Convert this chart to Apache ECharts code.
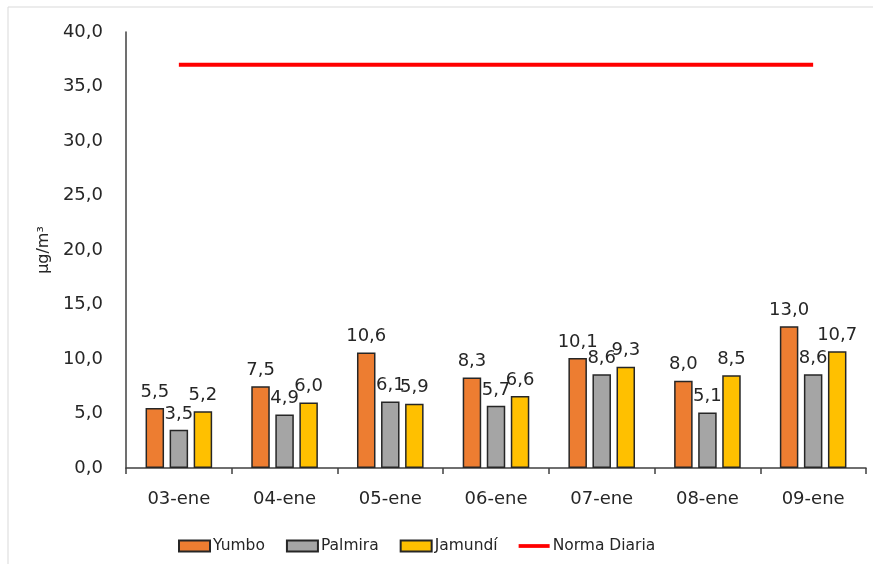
<!DOCTYPE html>
<html>
<head>
<meta charset="utf-8">
<script src="https://cdn.jsdelivr.net/npm/echarts@6/dist/echarts.min.js"></script>
<style>html,body{margin:0;padding:0;background:#fff;}#c{width:873px;height:564px;}</style>
</head>
<body>
<div id="c"></div>
<script>
var categories = ['03-ene','04-ene','05-ene','06-ene','07-ene','08-ene','09-ene'];
var yumbo = [5.5, 7.5, 10.6, 8.3, 10.1, 8.0, 13.0];
var palmira = [3.5, 4.9, 6.1, 5.7, 8.6, 5.1, 8.6];
var jamundi = [5.2, 6.0, 5.9, 6.6, 9.3, 8.5, 10.7];
var norma = [37, 37, 37, 37, 37, 37, 37];
var yTicks = {min: 0, max: 40, interval: 5};

var FONT = 'DejaVu Sans';
function fmt(v){ return Number(v).toFixed(1).replace('.', ','); }
function barSeries(name, data, color){
  return {
    name: name, type: 'bar', data: data,
    barGap: '30%', barCategoryGap: '37%',
    itemStyle: {color: color, borderColor: '#262626', borderWidth: 1.5},
    label: {show: true, position: 'top', distance: 7, color: '#262626',
      fontFamily: FONT, fontSize: 18, formatter: function(p){ return fmt(p.value); }}
  };
}
var chart = echarts.init(document.getElementById('c'), null, {renderer: 'canvas'});
chart.setOption({
  animation: false,
  backgroundColor: '#fff',
  graphic: [{type: 'rect', shape: {x: 8, y: 7, width: 900, height: 600},
    style: {fill: 'none', stroke: '#d9d9d9', lineWidth: 1}, silent: true}],
  grid: {left: 126, right: 7, top: 32, bottom: 96},
  legend: {
    top: 533, left: 173, itemGap: 21, itemWidth: 31, itemHeight: 11,
    textStyle: {fontFamily: FONT, fontSize: 15.5, color: '#262626', padding: [0, 0, 0, -2]},
    data: [
      {name: 'Yumbo', icon: 'rect'},
      {name: 'Palmira', icon: 'rect'},
      {name: 'Jamundí', icon: 'rect'},
      {name: 'Norma Diaria', icon: 'path://M0,0 H33 V4 H0 Z', itemStyle: {color: '#FF0000', borderWidth: 0}}
    ]
  },
  xAxis: {
    type: 'category', data: categories,
    axisLine: {lineStyle: {color: '#404040', width: 1.5}},
    axisTick: {show: true, alignWithLabel: false, length: 6, lineStyle: {color: '#404040', width: 1.5}},
    axisLabel: {fontFamily: FONT, fontSize: 18, color: '#262626', margin: 22}
  },
  yAxis: {
    type: 'value', min: yTicks.min, max: yTicks.max, interval: yTicks.interval,
    name: 'µg/m³', nameLocation: 'middle', nameGap: 72, nameRotate: 90,
    nameTextStyle: {fontFamily: FONT, fontSize: 16, color: '#262626'},
    axisLine: {show: true, lineStyle: {color: '#404040', width: 1.5}},
    axisTick: {show: false},
    splitLine: {show: false},
    axisLabel: {fontFamily: FONT, fontSize: 18, color: '#262626', margin: 23, formatter: fmt}
  },
  series: [
    barSeries('Yumbo', yumbo, '#ED7D31'),
    barSeries('Palmira', palmira, '#A5A5A5'),
    barSeries('Jamundí', jamundi, '#FFC000'),
    {name: 'Norma Diaria', type: 'line', data: norma, symbol: 'none',
      lineStyle: {color: '#FF0000', width: 4}, itemStyle: {color: '#FF0000'}}
  ]
});
</script>
</body>
</html>
